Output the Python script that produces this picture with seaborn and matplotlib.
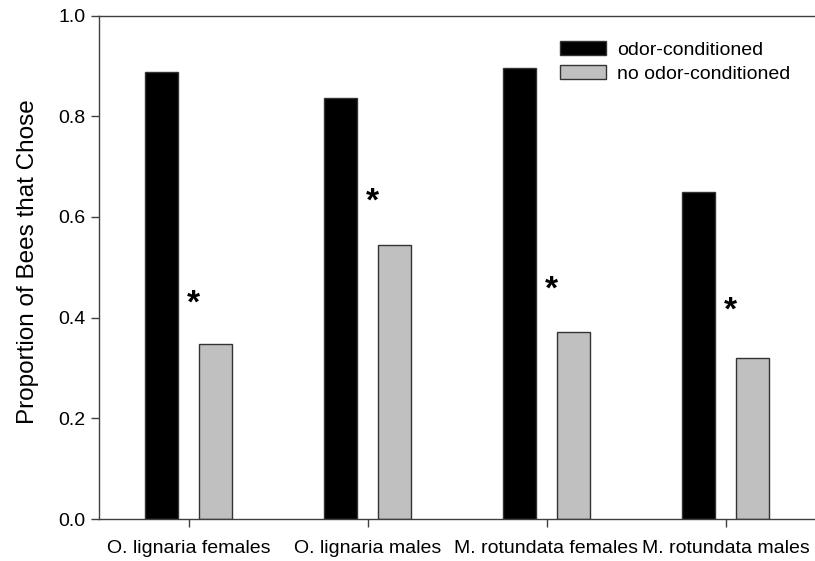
import pandas as pd
import numpy as np
import matplotlib
matplotlib.use("Agg")
import matplotlib.pyplot as plt
import seaborn as sns

# data
groups = ["O. lignaria females", "O. lignaria males", "M. rotundata females", "M. rotundata males"]
odor = [0.888, 0.836, 0.895, 0.650]
no_odor = [0.347, 0.544, 0.371, 0.320]
star_y = [0.427, 0.629, 0.454, 0.412]
series = ["odor-conditioned", "no odor-conditioned"]

df = pd.DataFrame({
    "group": groups * 2,
    "condition": [series[0]] * 4 + [series[1]] * 4,
    "value": odor + no_odor,
})

sns.set_style("white")
plt.rcParams["font.family"] = ["Liberation Sans", "DejaVu Sans"]
plt.rcParams["text.color"] = "black"
plt.rcParams["axes.labelcolor"] = "black"
plt.rcParams["xtick.color"] = "black"
plt.rcParams["ytick.color"] = "black"

fig = plt.figure(figsize=(8.15, 5.61), dpi=100)
ax = fig.add_axes([99 / 815, 42 / 561, 716 / 815, 503.5 / 561])

sns.barplot(data=df, x="group", y="value", hue="condition", order=groups,
            hue_order=series, palette={series[0]: "black", series[1]: "#c0c0c0"},
            width=0.608, gap=0.385, edgecolor="#333333", linewidth=1.0,
            saturation=1, ax=ax)

# significance markers
for i, y in enumerate(star_y):
    ax.text(i + 0.027, y, "*", ha="center", va="center", fontsize=24,
            fontweight="bold", color="black")

ax.set_xlim(-0.5, 3.5)
ax.set_ylim(0, 1.0)
ax.set_yticks(np.arange(0, 1.01, 0.2))
ax.set_yticklabels([f"{t:.1f}" for t in np.arange(0, 1.01, 0.2)])
ax.set_xlabel("")
ax.set_ylabel("Proportion of Bees that Chose", fontsize=17.5, labelpad=14)
ax.yaxis.label.set_y(0.512)
ax.tick_params(axis="both", labelsize=14, length=6, width=1, color="#404040",
               direction="out", bottom=True, left=True)
ax.tick_params(axis="x", pad=9)
for side in ["left", "bottom", "top"]:
    ax.spines[side].set_color("#404040")
    ax.spines[side].set_linewidth(1)
ax.spines["right"].set_visible(False)

leg = ax.legend(loc="upper left", bbox_to_anchor=(0.62, 0.985), frameon=False,
                fontsize=14, handlelength=2.35, handleheight=0.76,
                labelspacing=0.32, handletextpad=0.55)

plt.savefig("out.png", dpi=100)
